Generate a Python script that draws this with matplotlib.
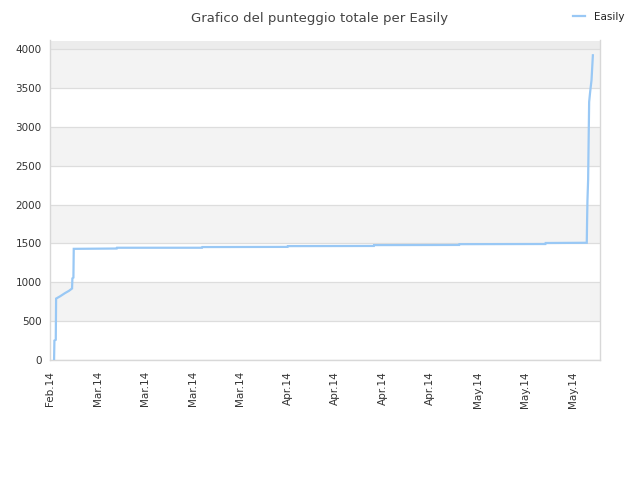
import pandas as pd
import matplotlib
matplotlib.use("Agg")
import matplotlib.pyplot as plt
import matplotlib.dates as mdates

# score history
times = ["2014-02-28 14:24", "2014-02-28 15:36", "2014-02-28 20:24", "2014-02-28 21:36",
         "2014-03-01 12:00", "2014-03-02 04:48", "2014-03-02 19:12", "2014-03-03 06:00",
         "2014-03-03 07:12", "2014-03-03 10:48", "2014-03-03 12:00",
         "2014-03-09 20:00", "2014-03-09 21:00",
         "2014-03-22 09:30", "2014-03-22 11:00",
         "2014-04-04 00:00", "2014-04-04 01:00",
         "2014-04-16 17:00", "2014-04-16 18:00",
         "2014-04-29 07:00", "2014-04-29 08:00",
         "2014-05-12 00:00", "2014-05-12 01:00",
         "2014-05-18 02:24", "2014-05-18 03:36", "2014-05-18 04:48", "2014-05-18 07:12",
         "2014-05-18 10:48", "2014-05-18 14:24", "2014-05-18 19:12", "2014-05-19 00:00"]
scores = [0, 250, 260, 790,
          820, 860, 890, 920,
          1050, 1060, 1430,
          1434, 1444,
          1444, 1453,
          1455, 1465,
          1467, 1478,
          1480, 1490,
          1492, 1505,
          1508, 1800, 2050, 2320,
          3320, 3450, 3600, 3920]

tick_dates = ["2014-02-28", "2014-03-07", "2014-03-14", "2014-03-21", "2014-03-28",
              "2014-04-04", "2014-04-11", "2014-04-18", "2014-04-25",
              "2014-05-02", "2014-05-09", "2014-05-16"]
y_ticks = [0, 500, 1000, 1500, 2000, 2500, 3000, 3500, 4000]

series = pd.Series(scores, index=pd.to_datetime(times))
ticks = pd.to_datetime(tick_dates)

fig = plt.figure(figsize=(6.4, 4.8), dpi=100)
ax = fig.add_axes([50 / 640, 120 / 480, 550 / 640, 319.5 / 480])

ymax = 4110
# alternating bands
for i, lo in enumerate(y_ticks):
    hi = min(lo + 500, ymax)
    if i % 2 == 1:
        ax.axhspan(lo, hi, color="#f3f3f3", lw=0, zorder=0)
    elif lo == 4000:
        ax.axhspan(lo, hi, color="#ececec", lw=0, zorder=0)
for y in y_ticks:
    ax.axhline(y, color="#dddddd", lw=0.9, zorder=1)

ax.plot(series.index, series.values, color="#99c8f5", lw=1.6, zorder=3,
        solid_joinstyle="miter", label="Easily")

ax.set_xlim(pd.Timestamp("2014-02-28 00:00"), pd.Timestamp("2014-05-20 01:12"))
ax.set_ylim(0, ymax)
ax.set_yticks(y_ticks)
ax.set_xticks(ticks)
ax.xaxis.set_major_formatter(mdates.DateFormatter("%b.%y"))
plt.setp(ax.get_xticklabels(), rotation=90)
ax.tick_params(axis="both", length=0, labelsize=7.5, colors="#333333")
ax.tick_params(axis="x", pad=8)
ax.tick_params(axis="y", pad=6)

for s in ax.spines.values():
    s.set_color("#d8d8d8")
    s.set_linewidth(1)
ax.spines["top"].set_visible(False)

fig.text(0.5, 0.975, "Grafico del punteggio totale per Easily", ha="center", va="top",
         fontsize=9.5, color="#444444")
fig.legend(loc="upper right", bbox_to_anchor=(0.99, 0.995), frameon=False,
           fontsize=7.5, handlelength=1.2, handletextpad=0.8, labelcolor="#222222")

fig.savefig("out.png", dpi=100)
